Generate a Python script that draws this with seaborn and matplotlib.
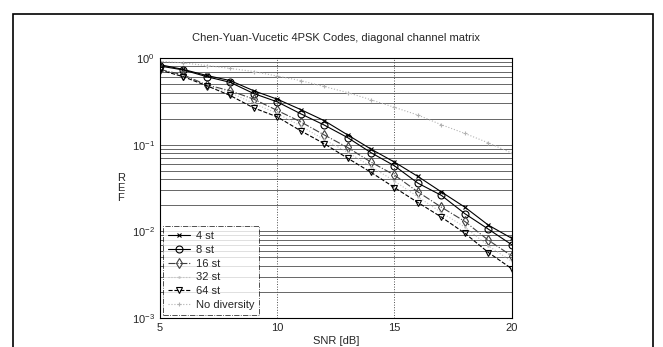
import numpy as np
import pandas as pd
import seaborn as sns
import matplotlib.pyplot as plt
from matplotlib.patches import Rectangle

snr = [5, 6, 7, 8, 9, 10, 11, 12, 13, 14, 15, 16, 17, 18, 19, 20]

fer_4st = [0.84, 0.74, 0.63, 0.55, 0.42, 0.336, 0.255, 0.19, 0.13, 0.089, 0.063, 0.043, 0.0285, 0.019, 0.0118, 0.0083]
fer_8st = [0.81, 0.73, 0.61, 0.525, 0.39, 0.313, 0.228, 0.169, 0.121, 0.081, 0.057, 0.036, 0.026, 0.016, 0.0106, 0.0070]
fer_16st = [0.74, 0.64, 0.49, 0.42, 0.336, 0.249, 0.184, 0.13, 0.093, 0.063, 0.0446, 0.0285, 0.019, 0.013, 0.0079, 0.0052]
fer_32st = [0.73, 0.62, 0.485, 0.40, 0.30, 0.23, 0.165, 0.115, 0.082, 0.056, 0.038, 0.025, 0.0165, 0.0112, 0.0068, 0.0045]
fer_64st = [0.73, 0.61, 0.48, 0.37, 0.266, 0.21, 0.145, 0.103, 0.070, 0.048, 0.032, 0.0215, 0.0146, 0.0095, 0.0057, 0.0037]
fer_nodiv = [0.92, 0.88, 0.82, 0.76, 0.70, 0.62, 0.55, 0.47, 0.40, 0.33, 0.27, 0.22, 0.17, 0.135, 0.105, 0.08]

labels = ["4 st", "8 st", "16 st", "32 st", "64 st", "No diversity"]
series = [fer_4st, fer_8st, fer_16st, fer_32st, fer_64st, fer_nodiv]

colors = ["black", "black", "0.25", "0.75", "black", "0.7"]
mks = ["x", "o", "d", ".", "v", "+"]
msizes = [3.5, 5, 5, 2, 5, 3]
lstyles = ["-", "-", "-.", ":", "--", ":"]

sns.set_style("white")
plt.rcParams["font.family"] = ["Liberation Sans", "DejaVu Sans"]
plt.rcParams["mathtext.fontset"] = "custom"
plt.rcParams["mathtext.rm"] = "Liberation Sans"

fig = plt.figure(figsize=(6.63, 3.47), dpi=100)
ax = fig.add_axes([0.241, 0.0836, 0.531, 0.749])

for lab, v, c, m, ms, ls in zip(labels, series, colors, mks, msizes, lstyles):
    sns.lineplot(x=snr, y=v, ax=ax, label=lab, color=c, linestyle=ls,
                 linewidth=0.8, marker=m, markersize=ms,
                 markerfacecolor="none", markeredgecolor=c, markeredgewidth=0.8)

ax.set_yscale("log")
ax.set_xlim(5, 20)
ax.set_ylim(1e-3, 1)
ax.set_xticks([5, 10, 15, 20])
ax.grid(True, axis="y", which="both", color="0.3", linestyle="-", linewidth=0.6)
ax.grid(True, axis="x", which="major", color="0.3", linestyle=":", linewidth=0.7)
for s in ax.spines.values():
    s.set_color("black")
    s.set_linewidth(0.8)
ax.tick_params(labelsize=8, length=3, direction="in", which="both")

ax.set_title("Chen-Yuan-Vucetic 4PSK Codes, diagonal channel matrix", fontsize=8, pad=12)
ax.set_xlabel("SNR [dB]", fontsize=8, labelpad=2)
ax.set_ylabel("R\nE\nF", fontsize=8, rotation=0, linespacing=1.0, labelpad=8, va="center")

leg = ax.legend(loc="lower left", fontsize=8, frameon=True, fancybox=False,
                handlelength=2.0, borderaxespad=0.3, labelspacing=0.35,
                borderpad=0.4, handletextpad=0.6)
leg.get_frame().set_edgecolor("black")
leg.get_frame().set_linestyle("-.")
leg.get_frame().set_linewidth(0.6)

fig.patches.append(Rectangle((0.02, -0.02), 0.965, 0.98, transform=fig.transFigure,
                             fill=False, edgecolor="black", linewidth=1.2))

fig.savefig("out.png", dpi=100)
